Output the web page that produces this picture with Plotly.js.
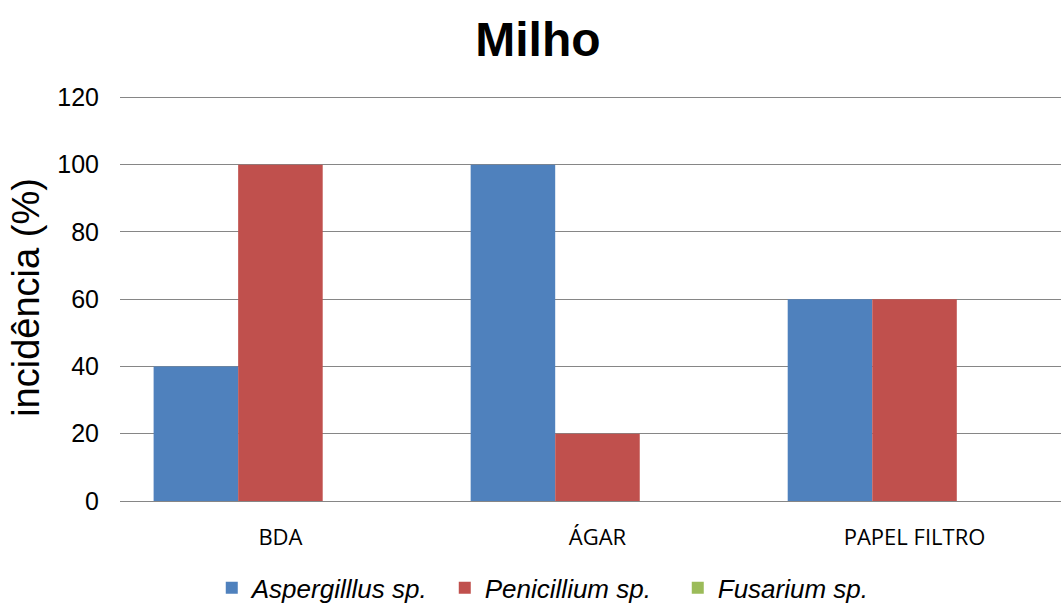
<!DOCTYPE html>
<html>
<head>
<meta charset="utf-8">
<script src="https://cdn.plot.ly/plotly-3.0.1.min.js"></script>
<style>
  html, body { margin: 0; padding: 0; background: #fff; }
  #chart { width: 1061px; height: 603px; }
</style>
</head>
<body>
<div id="chart"></div>
<script>
// Fungal incidence on maize seeds by detection method
const categories = ['BDA', 'ÁGAR', 'PAPEL FILTRO'];
const aspergillus = [40, 100, 60];
const penicillium = [100, 20, 60];
const fusarium = [0, 0, 0];

const seriesNames = ['Aspergilllus sp.', 'Penicillium sp.', 'Fusarium sp.'];
const seriesColors = ['#4F81BD', '#C0504D', '#9BBB59'];
const seriesValues = [aspergillus, penicillium, fusarium];
const yTicks = [0, 20, 40, 60, 80, 100, 120];

const traces = seriesValues.map((vals, i) => ({
  type: 'bar',
  x: categories,
  y: vals,
  name: seriesNames[i],
  marker: { color: seriesColors[i] },
  hoverinfo: 'x+y+name'
}));

const layout = {
  width: 1061,
  height: 603,
  margin: { l: 120, r: 0, t: 94, b: 102, autoexpand: false },
  paper_bgcolor: '#ffffff',
  plot_bgcolor: '#ffffff',
  barmode: 'group',
  bargap: 0.2,
  bargroupgap: 0,
  title: {
    text: '<b>Milho</b>',
    font: { family: 'Liberation Sans, Arial', size: 48, color: '#000' },
    x: 0.507, xanchor: 'center',
    y: 0.935, yanchor: 'middle'
  },
  xaxis: {
    type: 'category',
    range: [-0.506, 2.462],
    showgrid: false,
    showline: false,
    zeroline: false,
    ticks: '',
    tickfont: { family: 'Open Sans, Noto Sans', size: 22, color: '#000' },
    ticklabelstandoff: 21
  },
  yaxis: {
    range: [0, 121],
    tickvals: yTicks,
    showgrid: true,
    gridcolor: '#868686',
    gridwidth: 1,
    zeroline: true,
    zerolinecolor: '#868686',
    zerolinewidth: 1,
    showline: false,
    ticks: '',
    tickfont: { family: 'Liberation Sans, Arial', size: 25, color: '#000' },
    ticklabelstandoff: 20,
    title: {
      text: 'incidência (%)',
      font: { family: 'Liberation Sans, Arial', size: 38, color: '#000' },
      standoff: 5
    }
  },
  legend: {
    orientation: 'h',
    xref: 'container', yref: 'container',
    x: 0.529, xanchor: 'center',
    y: 0.025, yanchor: 'middle',
    font: { family: 'Liberation Sans, Arial', size: 26, color: '#000', style: 'italic' },
    itemwidth: 30,
    entrywidth: 188,
    entrywidthmode: 'pixels',
    traceorder: 'normal'
  },
  showlegend: true
};

Plotly.newPlot('chart', traces, layout, { displayModeBar: false, staticPlot: true });
</script>
</body>
</html>
